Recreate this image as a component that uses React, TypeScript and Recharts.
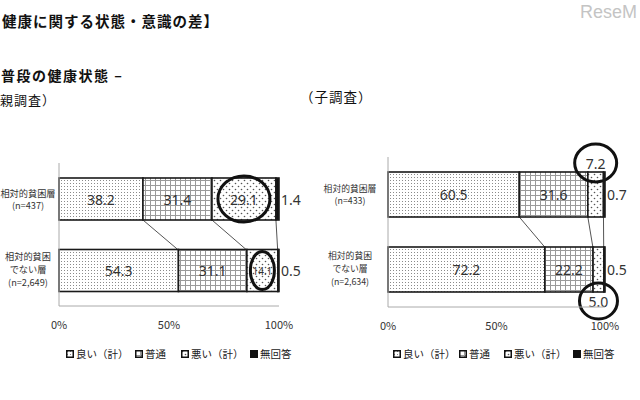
import React from "react";
import { BarChart, Bar, XAxis, YAxis } from "recharts";

// 健康状態の比較（親調査・子調査）
const categories = ["相対的貧困層", "相対的貧困でない層"];
const seriesNames = ["良い（計）", "普通", "悪い（計）", "無回答"];
const seriesKeys = ["good", "normal", "bad", "na"];

const parentLabels = [["相対的貧困層", "(n=437)"], ["相対的貧困", "でない層", "(n=2,649)"]];
const parentGood = [38.2, 54.3];
const parentNormal = [31.4, 31.1];
const parentBad = [29.1, 14.1];
const parentNA = [1.4, 0.5];

const childLabels = [["相対的貧困層", "(n=433)"], ["相対的貧困", "でない層", "(n=2,634)"]];
const childGood = [60.5, 72.2];
const childNormal = [31.6, 22.2];
const childBad = [7.2, 5.0];
const childNA = [0.7, 0.5];

const xTicks = [0, 50, 100];

const JP = '"Noto Sans CJK JP", "Noto Sans", sans-serif';
const NUM = '"Noto Sans", "DejaVu Sans", sans-serif';
const GAP = 15;
const fills = ["url(#patGood)", "url(#patNormal)", "url(#patBad)", "#111"];

// circle size per row around the 悪い labels
const ringSize: Record<string, number[][]> = {
  parent: [[26, 23], [12, 19]],
  child: [[21, 19], [19, 18]],
};

function makeShape(rows: number[][], s: number, kind: "parent" | "child") {
  return (p: any) => {
    const { x, y, width, height, payload } = p;
    const i = payload.idx;
    const v = rows[s][i];
    const ppu = width / v;
    const before = (row: number, upto: number) => {
      let t = 0;
      for (let k = 0; k < upto; k++) t += rows[k][row];
      return t;
    };
    const x0 = x - before(i, s) * ppu;
    const out: React.ReactNode[] = [];

    out.push(
      <rect key="r" x={x} y={y} width={width} height={height} fill={fills[s]} stroke="#1a1a1a" strokeWidth={1.6} />
    );

    // series lines between the two bars
    if (i === 0 && s < 3) {
      const xb = x0 + before(1, s + 1) * ppu;
      out.push(
        <line key="c" x1={x + width} y1={y + height} x2={xb} y2={y + height + 2 * GAP} stroke="#555" strokeWidth={1} />
      );
    }

    const txt = v.toFixed(1);
    let lx = x + width / 2;
    let ly = y + height / 2;
    let anchor: "middle" | "start" = "middle";
    let fs = width < 40 ? 10 : 14;
    if (s === 3) {
      lx = x + width + 2;
      anchor = "start";
      fs = 14;
    } else if (s === 2 && kind === "child") {
      ly = i === 0 ? y - 9 : y + height + 9;
      fs = 14;
    }
    out.push(
      <text key="t" x={lx} y={ly} textAnchor={anchor} dominantBaseline="central" fontSize={fs} fill="#333" fontFamily={NUM}>
        {txt}
      </text>
    );
    if (s === 2) {
      const [rx, ry] = ringSize[kind][i];
      out.push(<ellipse key="e" cx={lx} cy={ly} rx={rx} ry={ry} fill="none" stroke="#111" strokeWidth={3} />);
    }
    return <g>{out}</g>;
  };
}

const renderTick = (lines: string[][], off: number, fs: number) => (p: any) => {
  const idx = categories.indexOf(p.payload.value);
  const ls = lines[idx] ?? [p.payload.value];
  const n = ls.length;
  const step = n > 2 ? 13 : 12.5;
  return (
    <g>
      {ls.map((t, j) => (
        <text
          key={j}
          x={p.x - off}
          y={p.y + (j - (n - 1) / 2) * step - (n > 2 ? 1.5 : 0)}
          textAnchor="middle"
          dominantBaseline="central"
          fontSize={fs}
          fill="#333"
          fontFamily={JP}
        >
          {t}
        </text>
      ))}
    </g>
  );
};

function StackChart(props: {
  rows: number[][];
  lines: string[][];
  kind: "parent" | "child";
  margin: { top: number; right: number; bottom: number; left: number };
  yWidth: number;
  off: number;
  labelSize: number;
}) {
  const { rows, lines, kind, margin, yWidth, off, labelSize } = props;
  const data = categories.map((name, i) => ({
    name,
    idx: i,
    good: rows[0][i],
    normal: rows[1][i],
    bad: rows[2][i],
    na: rows[3][i],
  }));
  return (
    <BarChart
      width={320}
      height={200}
      data={data}
      layout="vertical"
      stackOffset="expand"
      margin={margin}
      barCategoryGap={GAP}
    >
      <XAxis
        type="number"
        domain={[0, 1]}
        ticks={xTicks.map((t) => t / 100)}
        tickFormatter={(v) => `${Math.round(v * 100)}%`}
        tickLine={false}
        axisLine={{ stroke: "#aaa" }}
        tick={{ fontSize: 11, fill: "#333", fontFamily: JP }}
        tickMargin={9}
        height={30}
      />
      <YAxis
        type="category"
        dataKey="name"
        width={yWidth}
        tickLine={false}
        axisLine={{ stroke: "#aaa" }}
        tick={renderTick(lines, off, labelSize)}
      />
      {seriesKeys.map((k, s) => (
        <Bar
          key={k}
          dataKey={k}
          name={seriesNames[s]}
          stackId="a"
          isAnimationActive={false}
          shape={makeShape(rows, s, kind)}
        />
      ))}
    </BarChart>
  );
}

function LegendRow({ xs, top }: { xs: number[]; top: number }) {
  return (
    <>
      {seriesNames.map((n, s) => (
        <div
          key={n}
          style={{
            position: "absolute",
            left: xs[s],
            top,
            display: "flex",
            alignItems: "center",
            fontFamily: JP,
            fontSize: 10.5,
            color: "#222",
            lineHeight: "14px",
            whiteSpace: "nowrap",
          }}
        >
          <svg width={8} height={8} style={{ marginRight: 2 }}>
            <rect x={0.75} y={0.75} width={6.5} height={6.5} fill={fills[s]} stroke="#111" strokeWidth={1.5} />
          </svg>
          {n}
        </div>
      ))}
    </>
  );
}

export default function App() {
  const parentRows = [parentGood, parentNormal, parentBad, parentNA];
  const childRows = [childGood, childNormal, childBad, childNA];
  const head = (extra: React.CSSProperties): React.CSSProperties => ({
    position: "absolute",
    fontFamily: JP,
    color: "#111",
    lineHeight: 1,
    whiteSpace: "nowrap",
    ...extra,
  });
  return (
    <div
      style={{
        position: "absolute",
        left: 0,
        top: 0,
        width: 640,
        height: 400,
        overflow: "hidden",
        background: "#fff",
      }}
    >
      <svg width={0} height={0} style={{ position: "absolute" }}>
        <defs>
          <pattern id="patGood" patternUnits="userSpaceOnUse" width={3} height={3}>
            <rect width={3} height={3} fill="#fff" />
            <rect x={1} y={1} width={1} height={1} fill="#8a8a8a" />
          </pattern>
          <pattern id="patNormal" patternUnits="userSpaceOnUse" width={5} height={5}>
            <rect width={5} height={5} fill="#fff" />
            <path d="M0 0.5H5M0.5 0V5" stroke="#9a9a9a" strokeWidth={1} />
          </pattern>
          <pattern id="patBad" patternUnits="userSpaceOnUse" width={6} height={6}>
            <rect width={6} height={6} fill="#fff" />
            <circle cx={1.5} cy={1.5} r={0.8} fill="#555" />
            <circle cx={4.5} cy={4.5} r={0.8} fill="#555" />
          </pattern>
        </defs>
      </svg>

      <div style={head({ left: 2, top: 14, fontSize: 14.5, fontWeight: 700, letterSpacing: 1 })}>
        健康に関する状態・意識の差】
      </div>
      <div style={head({ left: 1, top: 68, fontSize: 14, fontWeight: 700, letterSpacing: 1.5 })}>
        普段の健康状態 –
      </div>
      <div style={head({ left: 0, top: 93, fontSize: 13, letterSpacing: 1 })}>親調査）</div>
      <div style={head({ left: 300, top: 90, fontSize: 13.5, letterSpacing: 1 })}>（子調査）</div>
      <div
        style={{
          position: "absolute",
          left: 580,
          top: 3,
          fontFamily: '"Liberation Sans", sans-serif',
          fontSize: 18,
          color: "#c4c4c4",
          lineHeight: 1,
        }}
      >
        ReseM
      </div>

      <div style={{ position: "absolute", left: 0, top: 140 }}>
        <StackChart
          rows={parentRows}
          lines={parentLabels}
          kind="parent"
          margin={{ top: 23, right: 41, bottom: 4, left: 0 }}
          yWidth={59}
          off={23}
          labelSize={9.2}
        />
      </div>
      <div style={{ position: "absolute", left: 320, top: 140 }}>
        <StackChart
          rows={childRows}
          lines={childLabels}
          kind="child"
          margin={{ top: 17, right: 35, bottom: 3, left: 0 }}
          yWidth={68}
          off={30}
          labelSize={8.8}
        />
      </div>

      <LegendRow xs={[66, 135, 181, 250]} top={347} />
      <LegendRow xs={[393, 459, 504, 573]} top={347} />
    </div>
  );
}
